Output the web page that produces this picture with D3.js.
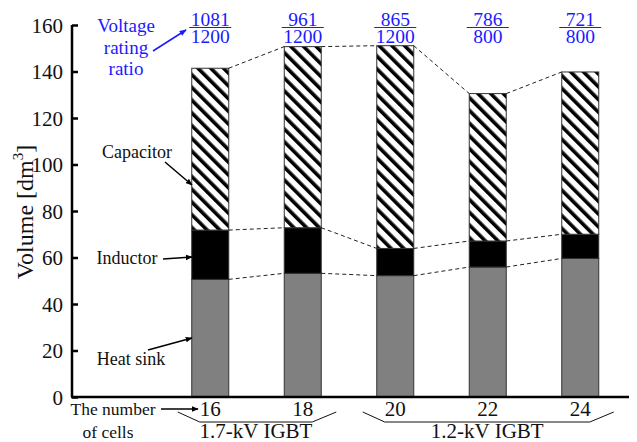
<!DOCTYPE html>
<html>
<head>
<meta charset="utf-8">
<script src="https://cdn.jsdelivr.net/npm/d3@7"></script>
<style>
  body { margin: 0; background: #fff; }
  svg, svg text { font-family: "Liberation Serif", "Times New Roman", "DejaVu Serif", serif; }
</style>
</head>
<body>
<div id="chart"></div>
<script>
var width = 637;
var height = 442;

// data
var cells = ["16", "18", "20", "22", "24"];
var heatSink = [50.6, 53.2, 52.2, 55.9, 59.6];
var inductor = [21.2, 19.6, 11.7, 11.2, 10.4];
var capacitor = [69.6, 77.9, 87.2, 63.4, 69.8];
var ratioNum = ["1081", "961", "865", "786", "721"];
var ratioDen = ["1200", "1200", "1200", "800", "800"];
var yTicks = [0, 20, 40, 60, 80, 100, 120, 140, 160];
var groups = [
  { label: "1.7-kV IGBT", first: "16", last: "18" },
  { label: "1.2-kV IGBT", first: "20", last: "24" }
];

var serif = "Liberation Serif, Times New Roman, DejaVu Serif, serif";

var svg = d3.select("#chart").append("svg")
  .attr("width", width)
  .attr("height", height)
  .attr("font-family", serif);

var defs = svg.append("defs");
var pat = defs.append("pattern")
  .attr("id", "hatch")
  .attr("patternUnits", "userSpaceOnUse")
  .attr("width", 9)
  .attr("height", 9)
  .attr("patternTransform", "rotate(-45)");
pat.append("rect").attr("width", 9).attr("height", 9).attr("fill", "#fff");
pat.append("rect").attr("x", 0).attr("width", 3.6).attr("height", 9).attr("fill", "#000");

function arrowMarker(id, color) {
  defs.append("marker")
    .attr("id", id)
    .attr("viewBox", "0 0 10 10")
    .attr("refX", 9)
    .attr("refY", 5)
    .attr("markerWidth", 7)
    .attr("markerHeight", 7)
    .attr("markerUnits", "userSpaceOnUse")
    .attr("orient", "auto")
    .append("path")
    .attr("d", "M0,1 L10,5 L0,9 Z")
    .attr("fill", color);
}
arrowMarker("arrBlack", "#000");
arrowMarker("arrBlue", "#1a1aff");

// scales
var x = d3.scaleBand().domain(cells).range([164, 626.5]).paddingInner(0.6).paddingOuter(0.3);
var y = d3.scaleLinear().domain([0, 160]).range([397, 25]);
var bw = x.bandwidth();

// stacked values
var rows = cells.map(function(c, i) {
  return { cell: c, hs: heatSink[i], ind: inductor[i], cap: capacitor[i] };
});
var stack = d3.stack().keys(["hs", "ind", "cap"])(rows);
var fills = { hs: "#808080", ind: "#000", cap: "url(#hatch)" };

stack.forEach(function(layer) {
  svg.append("g").selectAll("rect")
    .data(layer)
    .enter()
    .append("rect")
    .attr("x", function(d) { return x(d.data.cell); })
    .attr("y", function(d) { return y(d[1]); })
    .attr("width", bw)
    .attr("height", function(d) { return y(d[0]) - y(d[1]); })
    .attr("fill", fills[layer.key])
    .attr("stroke", "#333")
    .attr("stroke-width", 1);
});

// dashed connectors between segment tops
stack.forEach(function(layer) {
  for (var i = 0; i < layer.length - 1; ++i) {
    svg.append("line")
      .attr("x1", x(cells[i]) + bw)
      .attr("y1", y(layer[i][1]))
      .attr("x2", x(cells[i + 1]))
      .attr("y2", y(layer[i + 1][1]))
      .attr("stroke", "#222")
      .attr("stroke-width", 1)
      .attr("stroke-dasharray", "4,3");
  }
});

// y axis
var yAxis = d3.axisLeft(y).tickValues(yTicks).tickSize(-6).tickPadding(9);
var gy = svg.append("g").attr("transform", "translate(72,0)").call(yAxis);
gy.attr("font-family", serif);
gy.select(".domain").attr("stroke", "#000").attr("stroke-width", 2.5).attr("d", "M0," + y(0) + "V" + y(160));
gy.selectAll(".tick line").attr("stroke", "#000").attr("stroke-width", 2.5);
gy.selectAll(".tick text")
  .attr("font-family", serif)
  .attr("font-size", 21)
  .attr("fill", "#111")
  .attr("dy", "0.35em");

// x axis line
svg.append("line")
  .attr("x1", 71).attr("x2", 629)
  .attr("y1", y(0)).attr("y2", y(0))
  .attr("stroke", "#000").attr("stroke-width", 2.5);

// cell number labels
svg.append("g").selectAll("text")
  .data(cells)
  .enter()
  .append("text")
  .attr("x", function(d) { return x(d) + bw / 2; })
  .attr("y", 416)
  .attr("text-anchor", "middle")
  .attr("font-size", 21)
  .attr("fill", "#111")
  .text(function(d) { return d; });

// group braces
groups.forEach(function(g) {
  var x0 = x(g.first), x1 = x(g.last) + bw;
  svg.append("path")
    .attr("d", "M" + (x0 - 14) + ",412 L" + (x0 + 8) + ",422 L" + (x1 - 9) + ",422 L" + (x1 + 15) + ",412")
    .attr("fill", "none")
    .attr("stroke", "#111")
    .attr("stroke-width", 1);
  svg.append("text")
    .attr("x", (x0 + 8 + x1 - 9) / 2)
    .attr("y", 438)
    .attr("text-anchor", "middle")
    .attr("font-size", 21)
    .attr("fill", "#111")
    .text(g.label);
});

// "The number of cells"
svg.append("text").attr("x", 113).attr("y", 415).attr("text-anchor", "middle")
  .attr("font-size", 17.5).attr("fill", "#111").text("The number");
svg.append("text").attr("x", 108).attr("y", 438).attr("text-anchor", "middle")
  .attr("font-size", 17.5).attr("fill", "#111").text("of cells");
svg.append("line").attr("x1", 161).attr("y1", 409).attr("x2", 198).attr("y2", 409)
  .attr("stroke", "#000").attr("stroke-width", 1.5).attr("marker-end", "url(#arrBlack)");

// y axis title
var yt = svg.append("text")
  .attr("transform", "translate(33,212) rotate(-90)")
  .attr("text-anchor", "middle")
  .attr("font-size", 24)
  .attr("fill", "#111");
yt.append("tspan").text("Volume [dm");
yt.append("tspan").attr("font-size", 15).attr("dy", -10).text("3");
yt.append("tspan").attr("dy", 10).text("]");

// component labels
var notes = [
  { text: "Capacitor", tx: 137, ty: 158, x1: 165, y1: 162, x2: 192, y2: 185 },
  { text: "Inductor", tx: 127, ty: 264, x1: 163, y1: 259, x2: 192, y2: 257 },
  { text: "Heat sink", tx: 131, ty: 365, x1: 148, y1: 350, x2: 192, y2: 338 }
];
notes.forEach(function(n) {
  svg.append("text").attr("x", n.tx).attr("y", n.ty).attr("text-anchor", "middle")
    .attr("font-size", 18).attr("fill", "#111").text(n.text);
  svg.append("line").attr("x1", n.x1).attr("y1", n.y1).attr("x2", n.x2).attr("y2", n.y2)
    .attr("stroke", "#000").attr("stroke-width", 1.5).attr("marker-end", "url(#arrBlack)");
});

// voltage rating ratio fractions
var blue = "#1a1aff";
cells.forEach(function(c, i) {
  var cx = x(c) + bw / 2;
  svg.append("text").attr("x", cx).attr("y", 26).attr("text-anchor", "middle")
    .attr("font-size", 19.5).attr("fill", blue).text(ratioNum[i]);
  svg.append("line").attr("x1", cx - 21).attr("x2", cx + 21).attr("y1", 27.5).attr("y2", 27.5)
    .attr("stroke", blue).attr("stroke-width", 1.2);
  svg.append("text").attr("x", cx).attr("y", 43).attr("text-anchor", "middle")
    .attr("font-size", 19.5).attr("fill", blue).text(ratioDen[i]);
});

["Voltage", "rating", "ratio"].forEach(function(t, i) {
  svg.append("text").attr("x", 126).attr("y", 32 + i * 21.5).attr("text-anchor", "middle")
    .attr("font-size", 19).attr("fill", blue).text(t);
});
svg.append("line").attr("x1", 153).attr("y1", 51).attr("x2", 186).attr("y2", 30)
  .attr("stroke", blue).attr("stroke-width", 1.5).attr("marker-end", "url(#arrBlue)");
</script>
</body>
</html>
